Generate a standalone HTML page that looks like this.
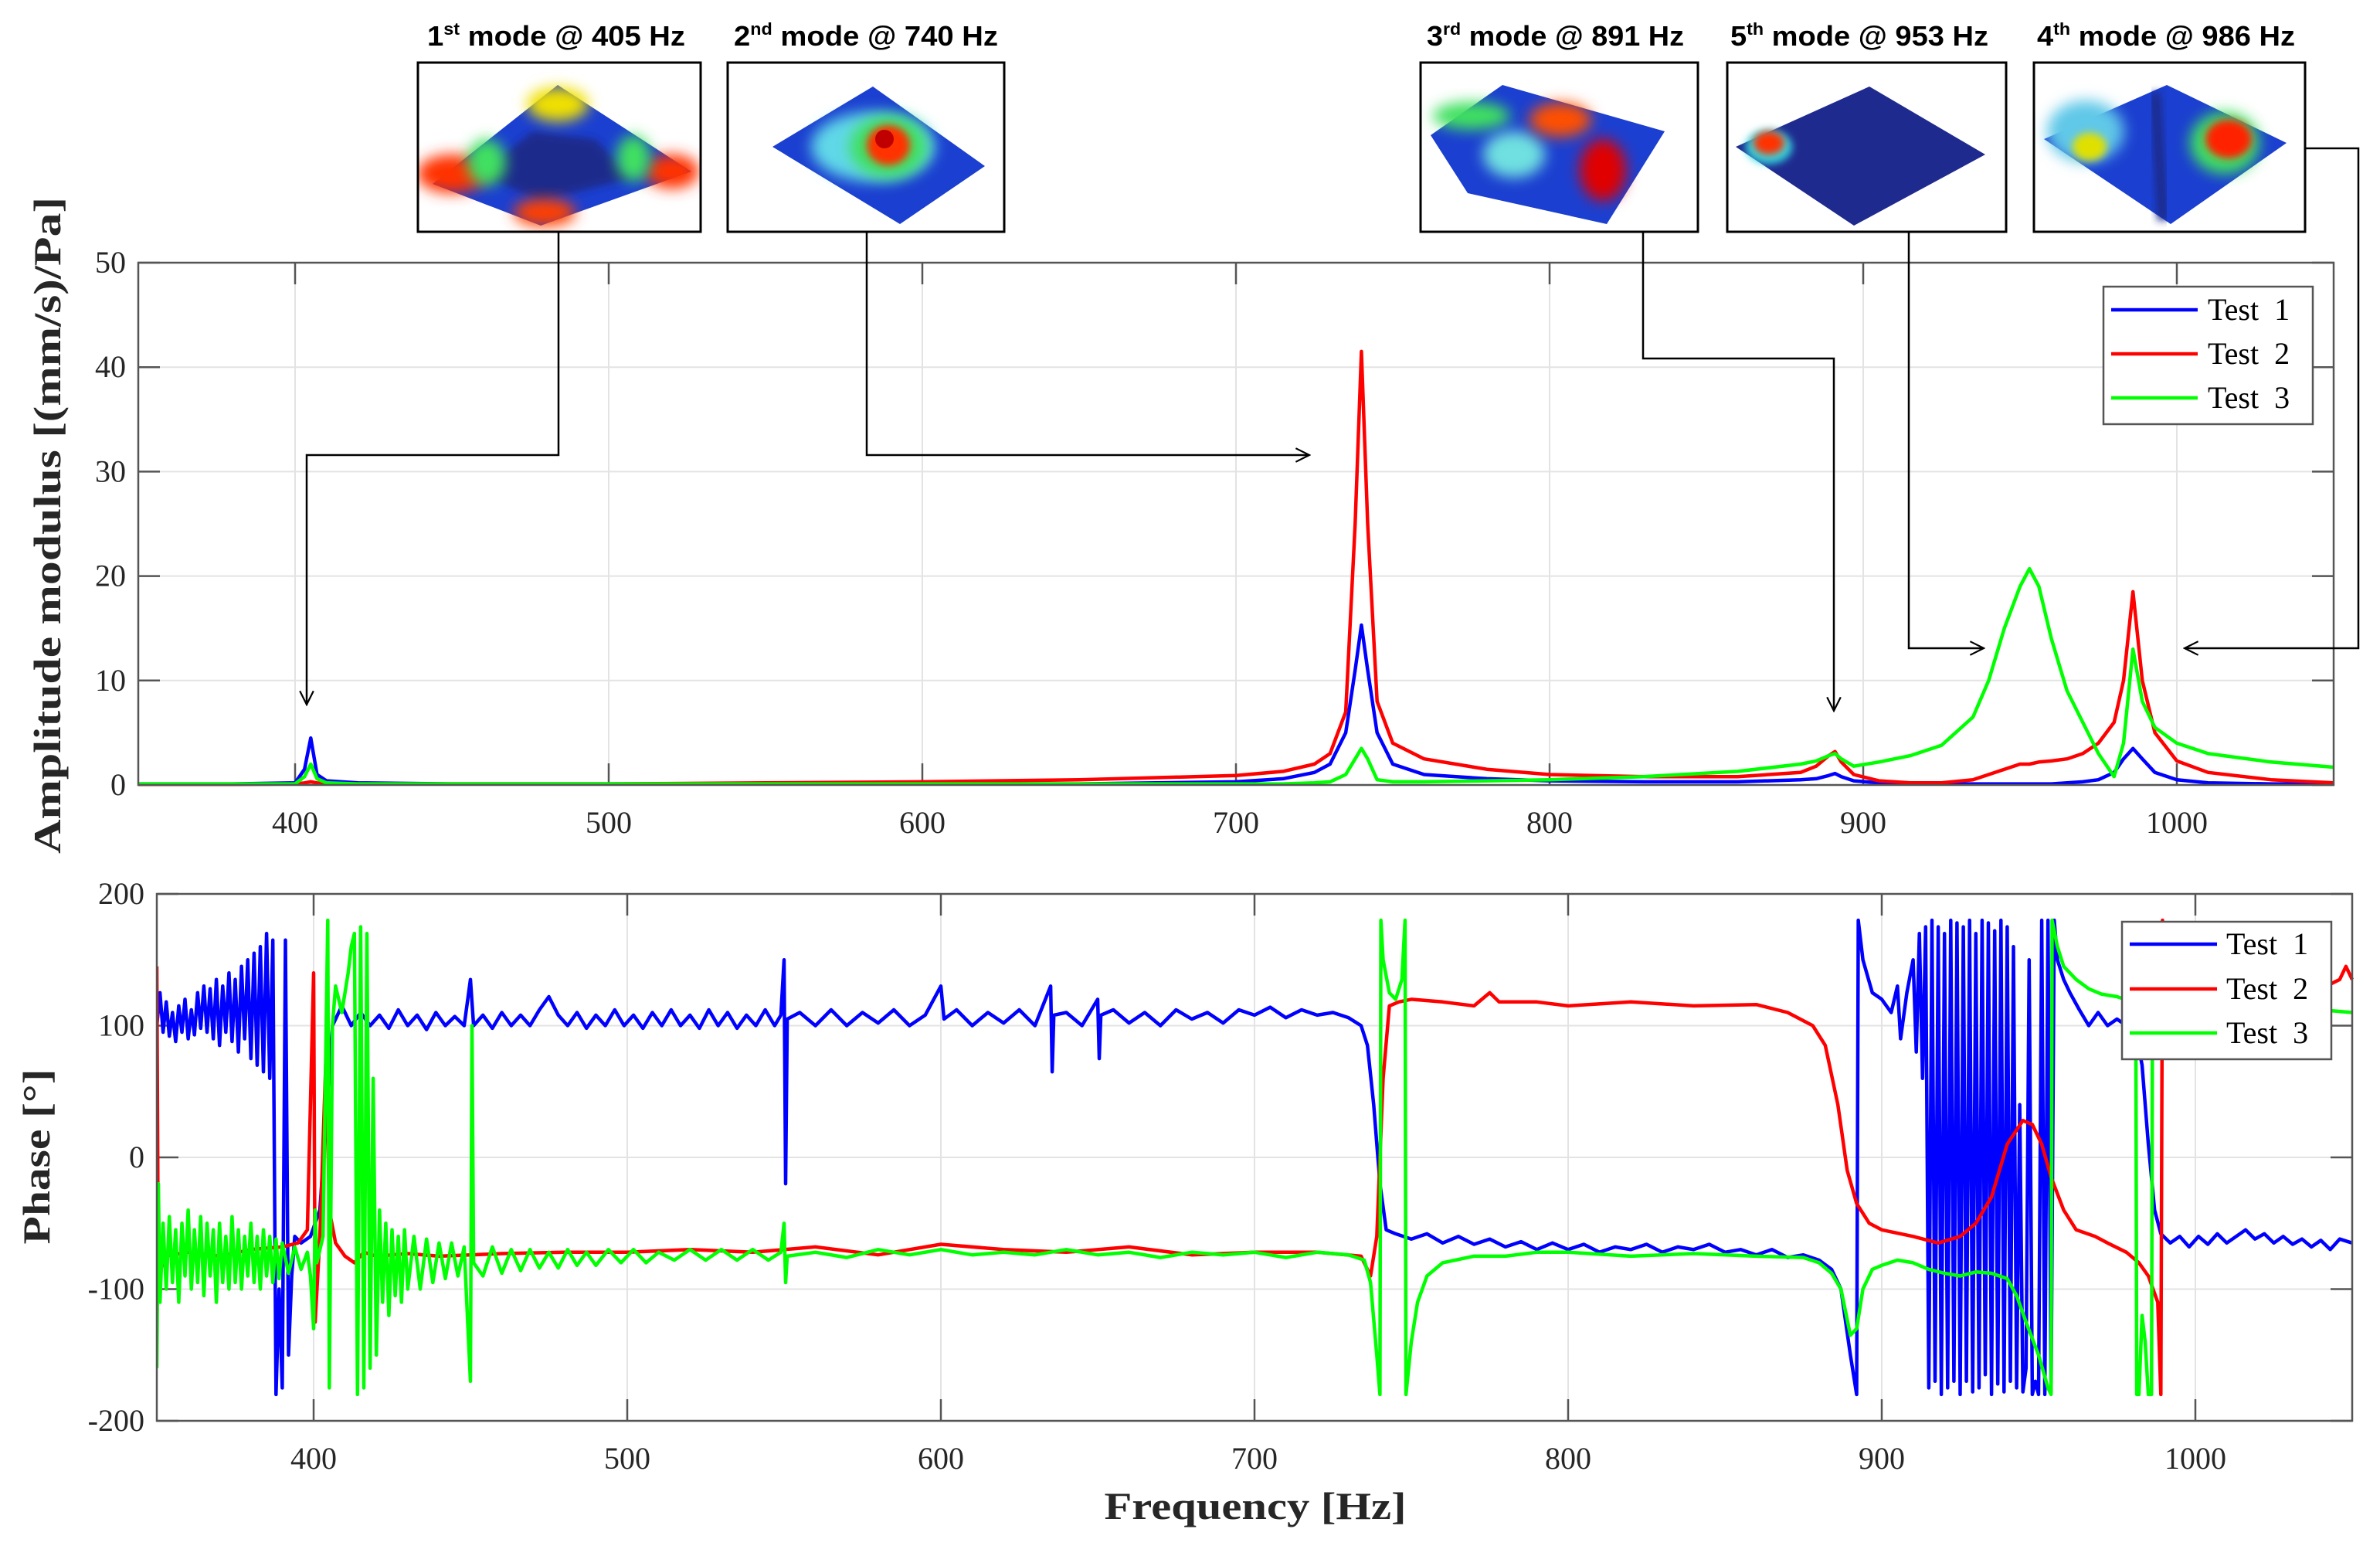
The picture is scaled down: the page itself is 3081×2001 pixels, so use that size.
<!DOCTYPE html>
<html><head><meta charset="utf-8"><style>
html,body{margin:0;padding:0;background:#fff;}
svg{display:block;}
.tk{font-family:"Liberation Serif",serif;font-size:40px;fill:#262626;}
.lg{font-family:"Liberation Serif",serif;font-size:40px;fill:#000;}
.ttl{font-family:"Liberation Sans",sans-serif;font-weight:bold;font-size:36px;fill:#000;}
</style></head><body>
<svg id="fig" width="3081" height="2001" viewBox="0 0 3081 2001" xmlns="http://www.w3.org/2000/svg">
<defs>
<filter id="bl" x="-50%" y="-50%" width="200%" height="200%"><feGaussianBlur stdDeviation="9"/></filter>
<filter id="bl2" x="-50%" y="-50%" width="200%" height="200%"><feGaussianBlur stdDeviation="5"/></filter>
<marker id="ah" viewBox="0 0 20 20" refX="18" refY="10" markerWidth="22" markerHeight="22" markerUnits="userSpaceOnUse" orient="auto"><path d="M2,2 L18,10 L2,18" fill="none" stroke="#000" stroke-width="2"/></marker>
<clipPath id="c1"><rect x="541" y="81" width="366" height="219"/></clipPath>
<clipPath id="c2"><rect x="942" y="81" width="358" height="219"/></clipPath>
<clipPath id="c3"><rect x="1839" y="81" width="359" height="219"/></clipPath>
<clipPath id="c4"><rect x="2236" y="81" width="361" height="219"/></clipPath>
<clipPath id="c5"><rect x="2633" y="81" width="351" height="219"/></clipPath>
<clipPath id="pa"><rect x="179" y="330" width="2845" height="700"/></clipPath>
<clipPath id="pb"><rect x="203" y="1150" width="2845" height="695"/></clipPath>
</defs>

<!-- mode titles -->
<text class="ttl" x="553" y="59" textLength="334" lengthAdjust="spacingAndGlyphs">1<tspan font-size="22" dy="-14">st</tspan><tspan dy="14"> mode @ 405 Hz</tspan></text>
<text class="ttl" x="950" y="59" textLength="342" lengthAdjust="spacingAndGlyphs">2<tspan font-size="22" dy="-14">nd</tspan><tspan dy="14"> mode @ 740 Hz</tspan></text>
<text class="ttl" x="1847" y="59" textLength="333" lengthAdjust="spacingAndGlyphs">3<tspan font-size="22" dy="-14">rd</tspan><tspan dy="14"> mode @ 891 Hz</tspan></text>
<text class="ttl" x="2240" y="59" textLength="334" lengthAdjust="spacingAndGlyphs">5<tspan font-size="22" dy="-14">th</tspan><tspan dy="14"> mode @ 953 Hz</tspan></text>
<text class="ttl" x="2637" y="59" textLength="334" lengthAdjust="spacingAndGlyphs">4<tspan font-size="22" dy="-14">th</tspan><tspan dy="14"> mode @ 986 Hz</tspan></text>

<!-- mode images -->
<g clip-path="url(#c1)">
<polygon points="722,110 895,222 700,292 560,238" fill="#1b3fd0"/>
<polygon points="690,170 770,180 820,230 700,260 620,225" fill="#1c2a8c" filter="url(#bl2)"/>
<ellipse cx="585" cy="225" rx="45" ry="25" fill="#ff3000" filter="url(#bl)"/>
<ellipse cx="870" cy="222" rx="35" ry="22" fill="#ff3000" filter="url(#bl)"/>
<ellipse cx="722" cy="135" rx="40" ry="22" fill="#f0e000" filter="url(#bl)"/>
<ellipse cx="705" cy="275" rx="40" ry="18" fill="#ff4000" filter="url(#bl)"/>
<ellipse cx="630" cy="210" rx="25" ry="30" fill="#40e060" filter="url(#bl)"/>
<ellipse cx="820" cy="205" rx="22" ry="30" fill="#40e060" filter="url(#bl)"/>
</g>
<g clip-path="url(#c2)">
<polygon points="1000,190 1130,112 1275,215 1165,290" fill="#1b3fd0"/>
<ellipse cx="1130" cy="190" rx="80" ry="45" fill="#60d8e8" filter="url(#bl)"/>
<ellipse cx="1150" cy="190" rx="50" ry="40" fill="#40e060" filter="url(#bl)"/>
<ellipse cx="1150" cy="188" rx="28" ry="26" fill="#ff3000" filter="url(#bl2)"/>
<ellipse cx="1145" cy="180" rx="12" ry="12" fill="#c00000"/>
</g>
<g clip-path="url(#c3)">
<polygon points="1852,175 1945,110 2155,170 2080,290 1900,250" fill="#1b3fd0"/>
<ellipse cx="1905" cy="150" rx="50" ry="18" fill="#40e060" filter="url(#bl)"/>
<ellipse cx="1960" cy="200" rx="40" ry="30" fill="#70e0e0" filter="url(#bl)"/>
<ellipse cx="2020" cy="155" rx="40" ry="22" fill="#ff5000" filter="url(#bl)"/>
<ellipse cx="2075" cy="220" rx="30" ry="40" fill="#e00000" filter="url(#bl)"/>
</g>
<g clip-path="url(#c4)">
<polygon points="2247,190 2420,112 2570,200 2400,292" fill="#1f2a8f"/>
<ellipse cx="2290" cy="190" rx="30" ry="22" fill="#30d8e0" filter="url(#bl2)"/>
<ellipse cx="2290" cy="185" rx="20" ry="15" fill="#ff3000" filter="url(#bl2)"/>
</g>
<g clip-path="url(#c5)">
<polygon points="2646,180 2805,110 2960,185 2810,290" fill="#1b3fd0"/>
<ellipse cx="2700" cy="170" rx="50" ry="40" fill="#60c8e8" filter="url(#bl)"/>
<ellipse cx="2705" cy="190" rx="22" ry="18" fill="#e0e000" filter="url(#bl2)"/>
<ellipse cx="2880" cy="185" rx="45" ry="40" fill="#40e060" filter="url(#bl)"/>
<ellipse cx="2885" cy="180" rx="30" ry="25" fill="#ff2000" filter="url(#bl2)"/>
<line x1="2790" y1="120" x2="2800" y2="285" stroke="#1c2a8c" stroke-width="14" filter="url(#bl2)"/>
</g>
<g fill="none" stroke="#000" stroke-width="3">
<rect x="541" y="81" width="366" height="219"/>
<rect x="942" y="81" width="358" height="219"/>
<rect x="1839" y="81" width="359" height="219"/>
<rect x="2236" y="81" width="361" height="219"/>
<rect x="2633" y="81" width="351" height="219"/>
</g>

<g id="top"></g>
<g id="bot"></g>

<!-- connectors -->
<g fill="none" stroke="#000" stroke-width="2.5">
<polyline points="723,300 723,589 397,589 397,912" marker-end="url(#ah)"/>
<polyline points="1122,300 1122,589 1695,589" marker-end="url(#ah)"/>
<polyline points="2127,300 2127,464 2374,464 2374,920" marker-end="url(#ah)"/>
<polyline points="2471,300 2471,839 2568,839" marker-end="url(#ah)"/>
<polyline points="2984,192 3053,192 3053,839 2828,839" marker-end="url(#ah)"/>
</g>
</svg>
<script>
// ---- amplitude data ----
const ampFreq = [350,380,400,403,405,407,410,420,450,500,550,600,650,700,715,725,730,735,738,740,742,745,750,760,780,800,830,860,880,885,889,891,893,897,905,915,925,935,940,945,950,953,956,960,965,970,975,980,983,986,989,993,1000,1010,1030,1050];
const ampTest1 = [0.1,0.1,0.2,1.5,4.5,1.0,0.4,0.2,0.1,0.1,0.1,0.1,0.1,0.3,0.6,1.2,2,5,11,15.3,11,5,2,1,0.6,0.4,0.3,0.3,0.5,0.6,0.9,1.1,0.8,0.4,0.2,0.1,0.1,0.1,0.1,0.1,0.1,0.1,0.1,0.1,0.2,0.3,0.5,1.2,2.5,3.5,2.5,1.2,0.5,0.2,0.1,0.1];
const ampTest2 = [0.05,0.05,0.1,0.2,0.3,0.2,0.1,0.1,0.1,0.1,0.2,0.3,0.5,0.9,1.3,2,3,7,25,41.5,25,8,4,2.5,1.5,1,0.8,0.8,1.2,1.8,2.8,3.2,2.2,1,0.4,0.2,0.2,0.5,1,1.5,2,2,2.2,2.3,2.5,3,4,6,10,18.5,10,5,2.3,1.2,0.5,0.2];
const ampTest3 = [0.1,0.1,0.1,0.8,2,0.6,0.2,0.1,0.1,0.1,0.1,0.1,0.1,0.1,0.1,0.2,0.3,1,2.5,3.5,2.5,0.5,0.3,0.3,0.4,0.5,0.8,1.3,2,2.3,2.8,3,2.5,1.8,2.2,2.8,3.8,6.5,10,15,19,20.7,19,14,9,6,3,0.8,4,13,8,5.5,4,3,2.2,1.7];
const xTicks = [400,500,600,700,800,900,1000];
const ampTicks = [0,10,20,30,40,50];
const phaseTicks = [-200,-100,0,100,200];
const seriesNames = ["Test 1","Test 2","Test 3"];
const seriesColors = ["#0000ff","#ff0000","#00ff00"];

// ---- phase data ----
const phFreq1 = [350,351,352,353,354,355,356,357,358,359,360,361,362,363,364,365,366,367,368,369,370,371,372,373,374,375,376,377,378,379,380,381,382,383,384,385,386,387,388,389,390,391,392,393,394,396,399,402,404,406,409,412,415,418,421,424,427,430,433,436,439,442,445,448,450,451,454,457,460,463,466,469,472,475,478,481,484,487,490,493,496,499,502,505,508,511,514,517,520,523,526,529,532,535,538,541,544,547,549,550,550.5,551,555,560,565,570,575,580,585,590,595,600,601,605,610,615,620,625,630,635,635.5,636,640,645,650,650.5,651,655,660,665,670,675,680,685,690,695,700,705,710,715,720,725,730,734,736,738,740,742,745,750,755,760,765,770,775,780,785,790,795,800,805,810,815,820,825,830,835,840,845,850,855,860,865,870,875,880,884,887,890,892,892.5,894,897,900,903,905,906,908,910,911,912,913,914,915,916,917,918,919,920,921,922,923,924,925,926,927,928,929,930,931,932,933,934,935,936,937,938,939,940,941,942,943,944,945,946,947,948,949,950,951,952,953,954,955,956,958,960,963,966,969,972,975,978,981,983,985,987,989,992,995,998,1001,1004,1007,1010,1013,1016,1019,1022,1025,1028,1031,1034,1037,1040,1043,1046,1050];
const phTest1 = [100,125,95,118,92,110,88,115,95,120,90,112,93,125,98,130,95,128,90,135,85,130,95,140,88,135,80,145,90,150,75,155,70,160,65,170,60,165,-180,-100,-175,165,-150,-90,-60,-65,-60,-40,30,100,115,100,110,100,108,98,112,100,108,97,110,100,107,100,135,100,108,98,110,100,108,100,112,122,108,100,110,98,108,100,112,100,108,98,110,100,112,100,108,98,112,100,110,98,108,100,112,100,108,150,-20,105,110,100,112,100,110,102,112,100,108,130,105,112,100,110,102,112,100,130,65,108,110,100,120,75,108,112,102,110,100,112,105,110,102,112,108,114,106,112,108,110,106,100,85,40,-20,-55,-58,-62,-58,-65,-60,-66,-62,-68,-64,-70,-65,-70,-66,-72,-68,-70,-66,-72,-68,-70,-66,-72,-70,-74,-70,-76,-74,-78,-85,-100,-150,-180,180,150,125,120,110,130,90,125,150,80,170,60,175,-175,180,-170,175,-180,170,-175,180,-170,178,-180,175,-170,180,-178,170,-175,180,-165,178,-180,172,-172,180,-178,175,-170,160,-175,40,-178,-160,150,-180,-170,-180,180,-180,180,-178,180,150,135,125,112,100,110,100,105,100,95,70,10,-40,-58,-65,-60,-68,-60,-66,-58,-65,-60,-55,-62,-58,-65,-60,-66,-62,-68,-63,-70,-62,-65];
const phFreq2 = [350,350.5,352,360,370,380,390,395,398,400,400.5,402,404,405,407,410,413,416,420,430,440,460,480,500,520,540,560,580,600,620,640,660,680,700,720,734,737,739,741,743,746,750,760,770,775,778,790,800,820,840,860,870,878,882,886,889,892,896,900,910,918,925,930,935,940,945,948,951,954,958,962,968,972,978,982,985,988,989,989.5,991,995,1000,1010,1020,1030,1040,1046,1048,1050];
const phTest2 = [145,-100,-75,-72,-75,-70,-68,-65,-55,140,-125,-60,80,-40,-65,-75,-80,-72,-75,-73,-75,-73,-72,-72,-70,-72,-68,-74,-66,-70,-72,-68,-74,-72,-72,-75,-90,-60,60,115,118,120,118,115,125,118,118,115,118,115,116,110,100,85,40,-10,-35,-50,-55,-60,-65,-60,-50,-30,10,28,25,10,-15,-40,-55,-60,-65,-72,-80,-90,-110,-180,180,135,125,128,120,125,130,128,135,145,135];
const phFreq3 = [350,350.5,351,352,353,354,355,356,357,358,359,360,361,362,363,364,365,366,367,368,369,370,371,372,373,374,375,376,377,378,379,380,381,382,383,384,385,386,387,388,389,390,392,394,396,398,399,400,400.5,401,403,404.5,405,406,407,409,411,412,413,414,415,416,417,418,419,420,421,422,423,424,425,426,427,428,429,430,432,434,436,438,440,442,444,446,448,450,450.5,451,454,457,460,463,466,469,472,475,478,481,484,487,490,494,498,502,506,510,515,520,525,530,535,540,545,549,550,550.5,551,560,570,580,590,600,610,620,630,640,650,660,670,680,690,700,710,720,730,735,737,739,740,740.3,741,743,745,747,748,748.3,750,752,755,760,770,780,790,800,820,840,860,875,880,884,887,890,892,894,897,900,905,910,915,920,925,930,935,940,943,946,950,953,954,954.3,956,958,962,966,970,975,980,981,981.3,982,983,984,985,986,986.3,988,992,1000,1010,1020,1030,1040,1050];
const phTest3 = [-160,-20,-110,-50,-100,-45,-95,-55,-110,-50,-90,-40,-100,-55,-95,-45,-105,-50,-90,-55,-110,-50,-95,-60,-100,-45,-95,-55,-100,-60,-90,-50,-95,-60,-100,-55,-90,-60,-95,-62,-92,-65,-88,-68,-85,-72,-90,-130,-40,-80,-60,180,-175,100,130,110,140,160,170,-180,175,-175,170,-160,60,-150,-40,-110,-50,-120,-55,-105,-60,-110,-55,-100,-60,-100,-62,-95,-65,-92,-65,-90,-68,-170,100,-80,-90,-68,-88,-70,-86,-70,-84,-72,-84,-70,-82,-72,-82,-70,-80,-70,-80,-72,-78,-70,-78,-70,-78,-70,-78,-72,-50,-95,-75,-72,-76,-70,-74,-70,-74,-72,-74,-70,-74,-72,-76,-72,-74,-72,-76,-72,-74,-78,-95,-150,-180,180,150,125,120,135,180,-180,-140,-110,-90,-80,-75,-75,-72,-72,-75,-73,-75,-76,-80,-88,-100,-135,-130,-100,-85,-82,-78,-80,-85,-88,-90,-87,-88,-92,-105,-125,-150,-175,-180,180,160,145,135,128,124,122,118,110,-180,-180,-120,-140,-180,-180,100,112,110,110,110,108,110,112,110];

// ---- axes ----
const A = {x0:179, pxPerHz:406, y0:1016, pxPerUnit:13.52, left:179, right:3021, top:340, bottom:1016};
const B = {x0:203, pxPerHz:406, y0:1498, pxPerUnit:1.705, left:203, right:3045, top:1157, bottom:1839};
function xA(f){return A.x0+(f-350)*A.pxPerHz/100;}
function yA(v){return A.y0-v*A.pxPerUnit;}
function xB(f){return B.x0+(f-350)*B.pxPerHz/100;}
function yB(v){return B.y0-v*B.pxPerUnit;}
const NS="http://www.w3.org/2000/svg";
function mk(tag,attrs,parent){const e=document.createElementNS(NS,tag);for(const k in attrs)e.setAttribute(k,attrs[k]);parent.appendChild(e);return e;}

function drawAxes(g,C,xs,ys,yticks,yfmt,labelYOffset){
  mk('rect',{x:C.left,y:C.top,width:C.right-C.left,height:C.bottom-C.top,fill:'#fff',stroke:'none'},g);
  xTicks.forEach(t=>{
    const x=xs(t);
    const gl=mk('line',{x1:x,y1:C.top,x2:x,y2:C.bottom,stroke:'#e3e3e3','stroke-width':2},g);
    
    
    mk('line',{x1:x,y1:C.bottom,x2:x,y2:C.bottom-28,stroke:'#555','stroke-width':2.5},g);
    mk('line',{x1:x,y1:C.top,x2:x,y2:C.top+28,stroke:'#555','stroke-width':2.5},g);
    const tx=mk('text',{x:x,y:C.bottom+labelYOffset,'text-anchor':'middle',class:'tk'},g);
    tx.textContent=t;
    
    
  });
  yticks.forEach(t=>{
    const y=ys(t);
    const gl=mk('line',{x1:C.left,y1:y,x2:C.right,y2:y,stroke:'#e3e3e3','stroke-width':2},g);
    
    
    mk('line',{x1:C.left,y1:y,x2:C.left+28,y2:y,stroke:'#555','stroke-width':2.5},g);
    mk('line',{x1:C.right,y1:y,x2:C.right-28,y2:y,stroke:'#555','stroke-width':2.5},g);
    const tx=mk('text',{x:C.left-16,y:y+13,'text-anchor':'end',class:'tk'},g);
    tx.textContent=yfmt(t);
    
    
  });
}
function drawLine(g,fs,vs,xs,ys,color,w,clip,name){
  let d='';
  for(let i=0;i<fs.length;i++){d+=(i?'L':'M')+xs(fs[i]).toFixed(1)+','+ys(vs[i]).toFixed(1);}
  const p=mk('path',{d:d,fill:'none',stroke:color,'stroke-width':w,'stroke-linejoin':'round','clip-path':'url(#'+clip+')'},g);
  
  
}
function drawLegend(g,x,y,w,h,rowY,lx1,lx2,tx){
  const r=mk('rect',{x:x,y:y,width:w,height:h,fill:'#fff',stroke:'#555','stroke-width':2.5},g);
  
  
  seriesNames.forEach((n,i)=>{
    const yy=rowY[i];
    const l=mk('line',{x1:lx1,y1:yy,x2:lx2,y2:yy,stroke:seriesColors[i],'stroke-width':4.5},g);
    
    
    const t=mk('text',{x:tx,y:yy+13,class:'lg','xml:space':'preserve'},g);
    t.textContent=n.replace(' ','\u00a0\u00a0');
    
    
  });
}

const gt=document.getElementById('top');
drawAxes(gt,A,xA,yA,ampTicks,t=>t,62);
drawLine(gt,ampFreq,ampTest1,xA,yA,seriesColors[0],4.5,'pa','amp-test1-line');
drawLine(gt,ampFreq,ampTest2,xA,yA,seriesColors[1],4.5,'pa','amp-test2-line');
drawLine(gt,ampFreq,ampTest3,xA,yA,seriesColors[2],4.5,'pa','amp-test3-line');
const ba=mk('rect',{x:A.left,y:A.top,width:A.right-A.left,height:A.bottom-A.top,fill:'none',stroke:'#555','stroke-width':2.5},gt);


drawLegend(gt,2723,371,271,178,[401,458,515],2733,2845,2858);
const yl=mk('text',{x:0,y:0,transform:'translate(78,680) rotate(-90)','text-anchor':'middle',textLength:850,lengthAdjust:'spacingAndGlyphs',style:'font-family:"Liberation Serif",serif;font-weight:bold;font-size:50px;fill:#262626'},gt);
yl.textContent='Amplitude modulus [(mm/s)/Pa]';



const gb=document.getElementById('bot');
drawAxes(gb,B,xB,yB,phaseTicks,t=>String(t).replace('-','-'),62);
drawLine(gb,phFreq1,phTest1,xB,yB,seriesColors[0],4.5,'pb','phase-test1-line');
drawLine(gb,phFreq2,phTest2,xB,yB,seriesColors[1],4.5,'pb','phase-test2-line');
drawLine(gb,phFreq3,phTest3,xB,yB,seriesColors[2],4.5,'pb','phase-test3-line');
const bb=mk('rect',{x:B.left,y:B.top,width:B.right-B.left,height:B.bottom-B.top,fill:'none',stroke:'#555','stroke-width':2.5},gb);


drawLegend(gb,2747,1193,271,178,[1222,1280,1337],2757,2870,2882);
const pl=mk('text',{x:0,y:0,transform:'translate(64,1497) rotate(-90)','text-anchor':'middle',textLength:227,lengthAdjust:'spacingAndGlyphs',style:'font-family:"Liberation Serif",serif;font-weight:bold;font-size:50px;fill:#262626'},gb);
pl.textContent='Phase [°]';


const xl=mk('text',{x:1625,y:1966,'text-anchor':'middle',textLength:391,lengthAdjust:'spacingAndGlyphs',style:'font-family:"Liberation Serif",serif;font-weight:bold;font-size:50px;fill:#262626'},gb);
xl.textContent='Frequency [Hz]';


</script>
</body></html>
